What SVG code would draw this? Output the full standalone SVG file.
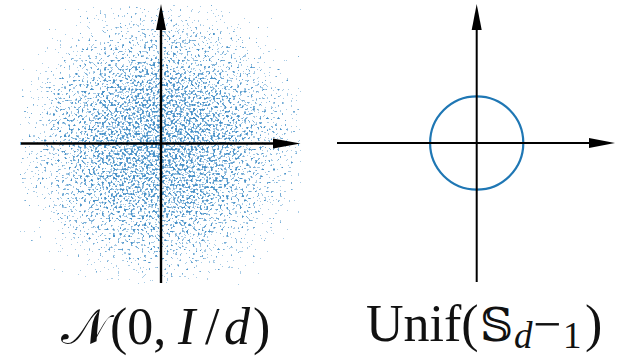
<svg xmlns="http://www.w3.org/2000/svg" width="629" height="358" viewBox="0 0 629 358">
  <style>
    .axis { stroke: #000; stroke-width: 2.4; fill: none; }
    .axis2 { stroke: #000; stroke-width: 2; fill: none; }
    .head { fill: #000; }
    .lbl { font-family: "Liberation Serif", "DejaVu Serif", serif; font-size: 52px; fill: #111; }
    .it { font-style: italic; }
  </style>
  <defs>
    <radialGradient id="gauss" gradientUnits="userSpaceOnUse" cx="160" cy="143" r="200">
      <stop offset="0" stop-color="#000" stop-opacity="1"/>
      <stop offset="0.175" stop-color="#000" stop-opacity="0.95"/>
      <stop offset="0.35" stop-color="#000" stop-opacity="0.85"/>
      <stop offset="0.525" stop-color="#000" stop-opacity="0.68"/>
      <stop offset="0.7" stop-color="#000" stop-opacity="0.44"/>
      <stop offset="0.85" stop-color="#000" stop-opacity="0.2"/>
      <stop offset="1" stop-color="#000" stop-opacity="0.03"/>
    </radialGradient>
    <filter id="scatter" filterUnits="userSpaceOnUse" x="20" y="5" width="282" height="280" color-interpolation-filters="sRGB">
      <feTurbulence type="fractalNoise" baseFrequency="0.45" numOctaves="1" seed="7" result="t"/>
      <feColorMatrix in="t" type="matrix" values="0 0 0 0 0  0 0 0 0 0  0 0 0 0 0  1 0 0 0 0" result="n"/>
      <feComposite in="n" in2="SourceGraphic" operator="arithmetic" k1="0" k2="1" k3="0.36" k4="0" result="s"/>
      <feComponentTransfer in="s" result="m">
        <feFuncA type="discrete" tableValues="0 0 0 0 0 0 0 0 0 0 0 0 0 0 0 0 0 0.4 0.65 0.85"/>
      </feComponentTransfer>
      <feColorMatrix in="m" type="matrix" values="0 0 0 0 0.16  0 0 0 0 0.5  0 0 0 0 0.75  0 0 0 1 0"/>
    </filter>
  </defs>

  <g id="gaussian-panel">
    <rect id="gaussian-samples" x="20" y="5" width="282" height="280" fill="url(#gauss)" filter="url(#scatter)"/>
  </g>

  <g id="sphere-panel">
    <circle id="unit-sphere" cx="476.7" cy="143" r="46.6" fill="none" stroke="#1f77b4" stroke-width="2.2"/>
  </g>

  <g id="connectors">
    <line class="axis" x1="21" y1="143.5" x2="274" y2="143.5"/>
    <polygon class="head" points="273,138.5 300.5,143.5 273,148.5"/>
    <line class="axis" x1="161" y1="283" x2="161" y2="29"/>
    <polygon class="head" points="156,30 161,4 166,30"/>

    <line class="axis2" x1="337" y1="143" x2="590" y2="143"/>
    <polygon class="head" points="589,138 615,143 589,148"/>
    <line class="axis2" x1="476.7" y1="282" x2="476.7" y2="29"/>
    <polygon class="head" points="471.7,30 476.7,4 481.7,30"/>
  </g>

  <g id="label-gaussian">
    <text class="lbl" y="344"><tspan x="61" font-size="49">𝒩</tspan><tspan x="110">(0,</tspan><tspan x="178" class="it">I</tspan><tspan x="205">/</tspan><tspan x="224" class="it">d</tspan><tspan x="253">)</tspan></text>
  </g>

  <g id="label-sphere">
    <text class="lbl" y="341"><tspan x="366">Unif(</tspan><tspan x="480" font-size="46">𝕊</tspan><tspan x="514" y="348" class="it" font-size="37">d</tspan><tspan x="533" y="341" font-size="50">−</tspan><tspan x="563" y="348" font-size="37">1</tspan><tspan x="585" y="341">)</tspan></text>
  </g>
</svg>
